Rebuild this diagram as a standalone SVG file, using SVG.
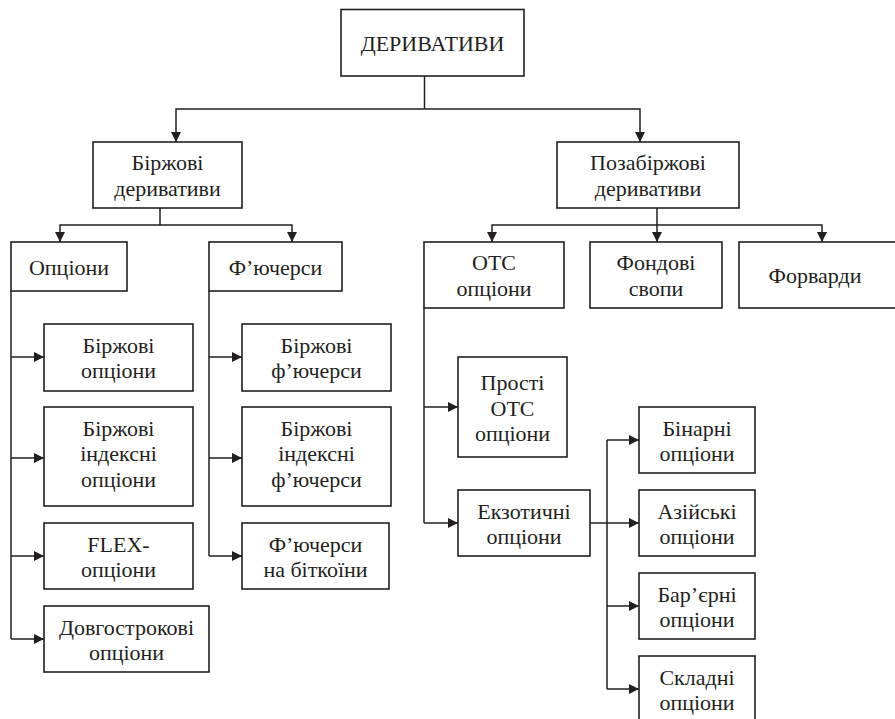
<svg xmlns="http://www.w3.org/2000/svg" width="895" height="719" viewBox="0 0 895 719">
<style>
rect.n{fill:#fff;stroke:#231f20;stroke-width:1.6}
text{font-family:"Liberation Serif","Times New Roman",serif;font-size:22px;fill:#231f20;text-anchor:middle}
#connectors path{fill:none;stroke:#231f20;stroke-width:1.5}
.a{marker-end:url(#ah)}
</style>
<defs>
<marker id="ah" markerUnits="userSpaceOnUse" markerWidth="11" markerHeight="10" refX="10" refY="5" orient="auto">
<path d="M0,0 L10,5 L0,10 Z" fill="#231f20"/>
</marker>
</defs>
<rect width="895" height="719" fill="#fff"/>
<g id="connectors">
<path d="M424.5,76 V109"/>
<path class="a" d="M424.5,109 H176 V142"/>
<path class="a" d="M424.5,109 H640 V142"/>
<path d="M160,208 V225"/>
<path class="a" d="M160,225 H60 V242"/>
<path class="a" d="M160,225 H292 V242"/>
<path d="M657,208 V225"/>
<path class="a" d="M657,225 H492 V242"/>
<path class="a" d="M657,225 V242"/>
<path class="a" d="M657,225 H822 V242"/>
<path d="M11,291 V639"/>
<path class="a" d="M11,357 H44"/>
<path class="a" d="M11,458 H44"/>
<path class="a" d="M11,556 H44"/>
<path class="a" d="M11,639 H44"/>
<path d="M209,291 V556"/>
<path class="a" d="M209,357 H242"/>
<path class="a" d="M209,458 H242"/>
<path class="a" d="M209,556 H242"/>
<path d="M424,308 V523"/>
<path class="a" d="M424,407 H458"/>
<path class="a" d="M424,523 H458"/>
<path class="a" d="M590,523 H639"/>
<path d="M607,440 V689"/>
<path class="a" d="M607,440 H639"/>
<path class="a" d="M607,606 H639"/>
<path class="a" d="M607,689 H639"/>
</g>
<g id="n-root"><rect class="n" x="341" y="9.5" width="183" height="66.5"/><text x="432.5" y="51">ДЕРИВАТИВИ</text></g>
<g id="n-exch"><rect class="n" x="93" y="142" width="149" height="66"/><text x="167.5" y="170">Біржові</text><text x="167.5" y="196">деривативи</text></g>
<g id="n-otc"><rect class="n" x="557" y="142" width="182" height="66"/><text x="648" y="170">Позабіржові</text><text x="648" y="196">деривативи</text></g>
<g id="n-options"><rect class="n" x="11" y="242" width="116" height="49"/><text x="69" y="275">Опціони</text></g>
<g id="n-futures"><rect class="n" x="209" y="242" width="133" height="49"/><text x="275.5" y="275">Ф’ючерси</text></g>
<g id="n-otcopt"><rect class="n" x="424" y="242" width="140" height="66"/><text x="494" y="270">ОТС</text><text x="494" y="296">опціони</text></g>
<g id="n-swaps"><rect class="n" x="590" y="242" width="132" height="66"/><text x="656" y="270">Фондові</text><text x="656" y="296">свопи</text></g>
<g id="n-fwd"><rect class="n" x="739" y="242" width="160" height="66"/><text x="815" y="283">Форварди</text></g>
<g id="n-eo"><rect class="n" x="44" y="324" width="149" height="67"/><text x="118.5" y="353">Біржові</text><text x="118.5" y="378">опціони</text></g>
<g id="n-eio"><rect class="n" x="44" y="407" width="149" height="99"/><text x="118.5" y="436">Біржові</text><text x="118.5" y="461">індексні</text><text x="118.5" y="487">опціони</text></g>
<g id="n-flex"><rect class="n" x="44" y="523" width="149" height="66"/><text x="118.5" y="552">FLEX-</text><text x="118.5" y="577">опціони</text></g>
<g id="n-long"><rect class="n" x="44" y="606" width="165" height="66"/><text x="126.5" y="635">Довгострокові</text><text x="126.5" y="660">опціони</text></g>
<g id="n-ef"><rect class="n" x="242" y="324" width="149" height="67"/><text x="316.5" y="353">Біржові</text><text x="316.5" y="378">ф’ючерси</text></g>
<g id="n-eif"><rect class="n" x="242" y="407" width="149" height="99"/><text x="316.5" y="436">Біржові</text><text x="316.5" y="461">індексні</text><text x="316.5" y="487">ф’ючерси</text></g>
<g id="n-btc"><rect class="n" x="242" y="523" width="147" height="66"/><text x="315.5" y="552">Ф’ючерси</text><text x="315.5" y="577">на біткоїни</text></g>
<g id="n-plain"><rect class="n" x="458" y="357" width="109" height="100"/><text x="512.5" y="390">Прості</text><text x="512.5" y="416">ОТС</text><text x="512.5" y="441">опціони</text></g>
<g id="n-exotic"><rect class="n" x="458" y="490" width="132" height="66"/><text x="524" y="519">Екзотичні</text><text x="524" y="544">опціони</text></g>
<g id="n-bin"><rect class="n" x="639" y="407" width="116" height="66"/><text x="697" y="436">Бінарні</text><text x="697" y="461">опціони</text></g>
<g id="n-asian"><rect class="n" x="639" y="490" width="116" height="66"/><text x="697" y="519">Азійські</text><text x="697" y="544">опціони</text></g>
<g id="n-barrier"><rect class="n" x="639" y="573" width="116" height="66"/><text x="697" y="602">Бар’єрні</text><text x="697" y="627">опціони</text></g>
<g id="n-compound"><rect class="n" x="639" y="656" width="116" height="70"/><text x="697" y="685">Складні</text><text x="697" y="710">опціони</text></g>
</svg>
